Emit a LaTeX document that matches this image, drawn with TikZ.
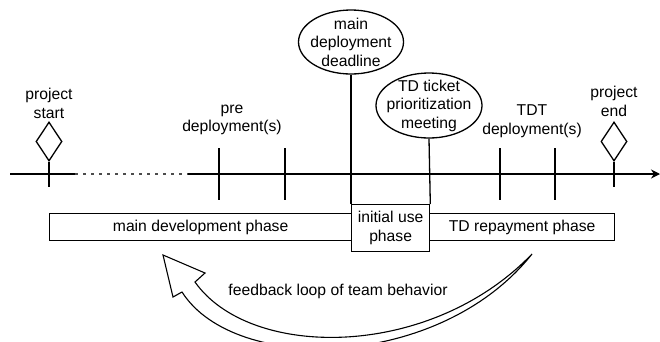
\documentclass[tikz,border=0pt]{standalone}
\usepackage{fontspec}
\setmainfont{Liberation Sans}
\usetikzlibrary{shapes.geometric,arrows.meta}
\begin{document}
\begin{tikzpicture}[x=1pt,y=-1pt,line width=1.3pt,
  font=\fontsize{15.7}{18.5}\selectfont,
  lbl/.style={align=center,inner sep=0pt},
  phasebox/.style={draw,inner sep=0pt,anchor=north west,align=center},
  ell/.style={ellipse,draw,inner sep=0pt},
  milestone/.style={diamond,draw,inner sep=0pt,minimum width=26pt,minimum height=39pt},
  tick/.style={line width=1.3pt},
  gapline/.style={line width=1.1pt,black!70,dash pattern=on 3pt off 5pt},
  loop/.style={line width=1.1pt,fill=white,line join=miter}]
\useasboundingbox (0,0) rectangle (660,341);

% timeline
\coordinate (t0) at (10,174);
\coordinate (t1) at (75,174);
\coordinate (t2) at (188,174);
\coordinate (t3) at (660,174);
\draw (t0) -- (t1);
\draw[gapline] (t1) -- (t2);
\draw[-{Stealth[length=9pt,width=9pt]}] (t2) -- (t3);

% milestones
\node[milestone] (ps) at (49,141.5) {};
\coordinate (psb) at (49,187);
\draw (ps.south) -- (psb);
\node[lbl] (pst) at (49,103.5) {project\\start};

\node[milestone] (pe) at (614,141.5) {};
\coordinate (peb) at (614,187);
\draw (pe.south) -- (peb);
\node[lbl] (pet) at (614,101.5) {project\\end};

% pre deployments
\coordinate (p1t) at (219,148); \coordinate (p1b) at (219,200);
\coordinate (p2t) at (285,148); \coordinate (p2b) at (285,200);
\draw[tick] (p1t) -- (p1b);
\draw[tick] (p2t) -- (p2b);
\node[lbl] (pdt) at (232,120) {pre\\deployment(s)};

% TDT deployments
\coordinate (d1t) at (500,148); \coordinate (d1b) at (500,200);
\coordinate (d2t) at (555,148); \coordinate (d2b) at (555,200);
\draw[tick] (d1t) -- (d1b);
\draw[tick] (d2t) -- (d2b);
\node[lbl] (tdtt) at (532,121) {TDT\\deployment(s)};

% phases
\node[phasebox,minimum width=302pt,minimum height=27pt] (mdp) at (49,213) {main development phase};
\node[phasebox,minimum width=78pt,minimum height=47pt] (iu) at (351,204) {initial use\\phase};
\node[phasebox,minimum width=185pt,minimum height=27pt] (tdr) at (429,213) {TD repayment phase};

% ellipses
\node[ell,minimum width=105pt,minimum height=64pt] (dd) at (351,42) {};
\node[lbl] (ddt) at (dd.center) {main\\deployment\\deadline};
\node[ell,minimum width=106pt,minimum height=65pt] (tdm) at (429,105.5) {};
\node[lbl] (tdmt) at (tdm.center) {TD ticket\\prioritization\\meeting};
\draw (dd.south) -- (iu.north west);
\draw (tdm.south) -- (iu.north east);

% feedback loop arrow
\coordinate (R) at (532,254);
\coordinate (O) at (182,292);
\coordinate (W2) at (173,297);
\coordinate (T) at (163,255);
\coordinate (W1) at (205,273);
\coordinate (I) at (195,282);
\draw[loop] (R) .. controls (440,370) and (235,375) .. (O) -- (W2) -- (T) -- (W1) -- (I)
   .. controls (250,360) and (430,360) .. (R) -- cycle;
\node[lbl] (fbl) at (338,291) {feedback loop of team behavior};
\end{tikzpicture}
\end{document}
